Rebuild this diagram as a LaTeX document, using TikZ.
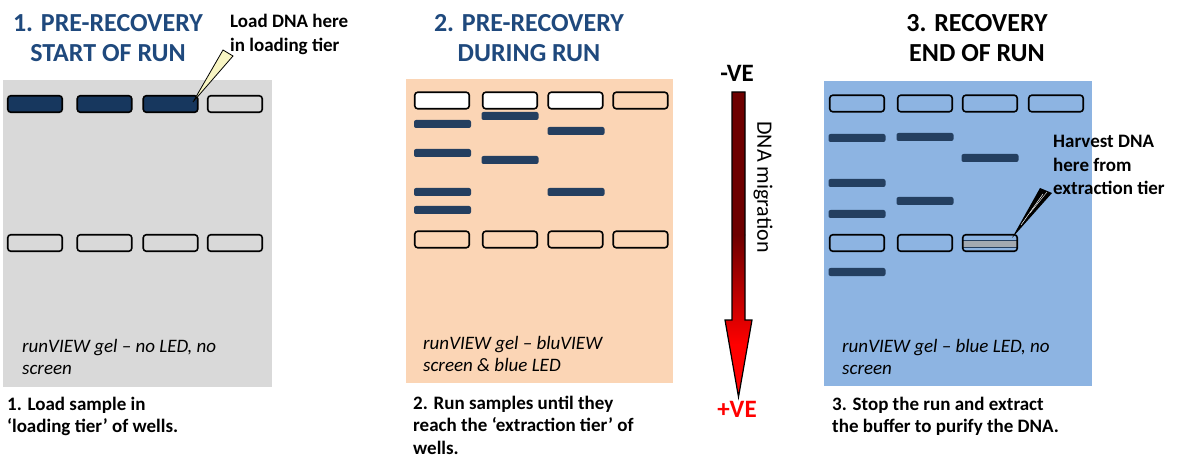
\documentclass[tikz,border=0pt]{standalone}
\usepackage{fontspec}
\setmainfont{Carlito}
\definecolor{titleblue}{HTML}{1F497D}
\definecolor{gelgray}{HTML}{D9D9D9}
\definecolor{gelpeach}{HTML}{FBD5B5}
\definecolor{gelblue}{HTML}{8DB4E2}
\definecolor{loaded}{HTML}{17375E}
\definecolor{bandcol}{HTML}{243F60}
\definecolor{darkred}{HTML}{6E0000}
\definecolor{calloutyellow}{HTML}{F8F5C3}
\definecolor{extractcol}{HTML}{A2A9B1}
\tikzset{
  well/.style={draw=black, line width=1.6pt, rounded corners=3pt, minimum width=54.5pt, minimum height=16.5pt, inner sep=0pt},
  bandbox/.style={fill=bandcol, rounded corners=2pt, minimum width=57pt, minimum height=8pt, inner sep=0pt},
  titletext/.style={font=\fontsize{26}{30}\selectfont\bfseries, align=center, anchor=base, inner sep=0pt},
  calltext/.style={font=\fontsize{19}{23.5}\selectfont\bfseries, align=left, anchor=base west, inner sep=0pt},
  geltext/.style={font=\fontsize{19}{22}\selectfont\itshape, align=left, anchor=base west, inner sep=0pt},
  captext/.style={font=\fontsize{19}{22.8}\selectfont\bfseries, align=left, anchor=base west, inner sep=0pt},
  poletext/.style={font=\fontsize{25}{30}\selectfont\bfseries, anchor=base, inner sep=0pt}
}
\begin{document}
\begin{tikzpicture}[x=1pt,y=-1pt]
\useasboundingbox (0,0) rectangle (1181,457);
% gels
\fill[gelgray] (3,80) rectangle (272,387);
\fill[gelpeach] (406,79) rectangle (673,383);
\fill[gelblue] (824,81) rectangle (1092,386);

% titles (anchor = baseline of last line)
\node[titletext, text=titleblue] (t1) at (108,62) {1. PRE-RECOVERY\\START OF RUN};
\node[titletext, text=titleblue] (t2) at (529,62) {2. PRE-RECOVERY\\DURING RUN};
\node[titletext, text=black] (t3) at (977,62) {3. RECOVERY\\END OF RUN};

% panel 1 wells
\foreach \x/\n in {35/1,104.5/2,170.5/3} \node[well, fill=loaded] (a\n) at (\x,104) {};
\node[well] (a4) at (235,104) {};
\foreach \x/\n in {35/1,104.5/2,170.5/3,235/4} \node[well] (b\n) at (\x,243) {};

% panel 2 wells
\foreach \x/\n in {442/1,510/2,575.5/3} \node[well, fill=white] (c\n) at (\x,100.5) {};
\node[well] (c4) at (640.5,100.5) {};
\foreach \x/\n in {442/1,510/2,575.5/3,640.5/4} \node[well] (d\n) at (\x,239.5) {};
% panel 2 bands
\foreach \y/\n in {124/1,153/2,192/3,210/4} \node[bandbox] (p2a\n) at (442.5,\y) {};
\foreach \y/\n in {116/1,160/2} \node[bandbox] (p2b\n) at (510,\y) {};
\foreach \y/\n in {131/1,192/2} \node[bandbox] (p2c\n) at (576,\y) {};

% panel 3 wells
\foreach \x/\n in {857/1,925/2,990/3,1056/4} \node[well] (e\n) at (\x,103.5) {};
\node[fill=extractcol, draw=bandcol, line width=0.6pt, minimum width=55pt, minimum height=7pt, inner sep=0pt] (ext) at (990,244) {};
\foreach \x/\n in {857/1,925/2,990/3} \node[well] (f\n) at (\x,243) {};
% panel 3 bands
\foreach \y/\n in {138/1,183/2,214/3,272/4} \node[bandbox] (p3a\n) at (857,\y) {};
\foreach \y/\n in {137/1,201/2} \node[bandbox] (p3b\n) at (925,\y) {};
\node[bandbox] (p3c1) at (990,158) {};

% callout 1
\coordinate (tip1) at (193,102);
\filldraw[fill=calloutyellow, draw=black, line width=0.8pt, line join=miter] (tip1) -- (223,50) -- (233,56) -- cycle;
\node[calltext] (load) at (230,51.5) {Load DNA here\\in loading tier};

% callout 3
\coordinate (tip3) at (1012,238);
\fill[black] (tip3) -- (1040,188) -- (1052,193) -- cycle;
\draw[white, line width=0.5pt] (1021,225) -- (1043,194);
\draw[white, line width=0.4pt] (1030,213) -- (1047,192);
\node[calltext] (harvest) at (1053,195) {Harvest DNA\\here from\\extraction tier};

% gel texts
\node[geltext] (g1) at (22,374) {runVIEW gel – no LED, no\\screen};
\node[geltext] (g2) at (423,371) {runVIEW gel – bluVIEW\\screen \& blue LED};
\node[geltext] (g3) at (842,374) {runVIEW gel – blue LED, no\\screen};

% captions
\node[captext] (cap1) at (7,432.8) {1. Load sample in\\‘loading tier’ of wells.};
\node[captext] (cap2) at (413,454.6) {2. Run samples until they\\reach the ‘extraction tier’ of\\wells.};
\node[captext] (cap3) at (832,432.8) {3. Stop the run and extract\\the buffer to purify the DNA.};

% migration arrow
\begin{scope}
\clip (732,92) -- (745,92) -- (745,320) -- (752,320) -- (738.5,397) -- (725,320) -- (732,320) -- cycle;
\fill[darkred] (720,88) rectangle (760,236);
\shade[top color=darkred, bottom color=red] (720,235) rectangle (760,345);
\fill[red] (720,344) rectangle (760,400);
\end{scope}
\draw[line width=1.2pt, line join=miter] (732,92) -- (745,92) -- (745,320) -- (752,320) -- (738.5,397) -- (725,320) -- (732,320) -- cycle;
\node[poletext, text=black] (neg) at (737,82) {-VE};
\node[poletext, text=red] (pos) at (737,417) {+VE};
\node[font=\fontsize{22}{26}\selectfont, rotate=-90, inner sep=0pt] (mig) at (763,187) {DNA migration};
\end{tikzpicture}
\end{document}
